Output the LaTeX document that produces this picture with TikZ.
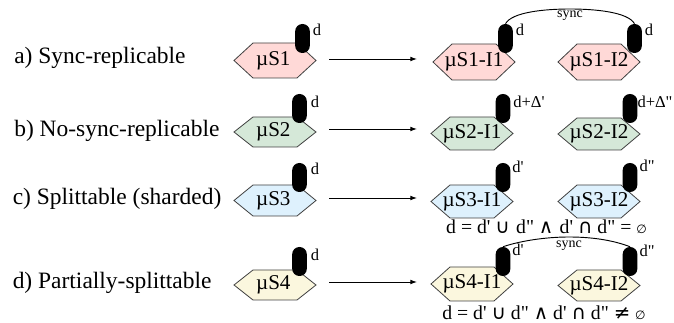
\documentclass[tikz,border=0pt]{standalone}
\usepackage{fontspec}
\setmainfont{Liberation Serif}
\newfontfamily\plainserif{Liberation Serif}
\newfontfamily\symfont{DejaVu Sans}
\usetikzlibrary{arrows.meta}
\tikzset{
  x=0.75pt,y=-0.75pt,
  hexlabel/.style={inner sep=0pt,font=\fontsize{15.8}{18}\selectfont},
  rowlabel/.style={anchor=west,inner sep=0pt,font=\fontsize{17.6}{20}\selectfont},
  db/.style={fill=black,draw=none,minimum width=11pt,minimum height=21.75pt,rounded corners=5.4pt,inner sep=0pt},
  dblabel/.style={inner sep=0pt,font=\plainserif\fontsize{12.4}{14}\selectfont},
  synclabel/.style={inner sep=0pt,font=\fontsize{10.5}{12}\selectfont},
  eqlabel/.style={inner sep=0pt,font=\plainserif\fontsize{14.8}{17}\selectfont},
  flow/.style={-{Latex[length=5pt,width=3.6pt]},line width=0.7pt},
  syncline/.style={line width=0.7pt},
  hexline/.style={draw=black!75!white,line width=0.6pt},
}
\definecolor{cred}{HTML}{FFD9D7}
\definecolor{cgreen}{HTML}{D5E8D8}
\definecolor{cblue}{HTML}{DEF1FD}
\definecolor{cyellow}{HTML}{FBF7DE}
% name, xleft, xright, ytop, ybottom, colour, text
\newcommand{\hexa}[7]{%
  \draw[hexline,fill=#6] (#2,{(#4+#5)/2}) -- ({#2+19},#4) -- ({#3-19},#4) -- (#3,{(#4+#5)/2}) -- ({#3-19},#5) -- ({#2+19},#5) -- cycle;
  \node[hexlabel] (#1) at ({(#2+#3)/2},{(#4+#5)/2}) {#7};}
\begin{document}
\begin{tikzpicture}
\useasboundingbox (0,0) rectangle (674,323);
% row labels
\node[rowlabel] (la) at (14,58) {a) Sync-replicable};
\node[rowlabel] (lb) at (14,131) {b) No-sync-replicable};
\node[rowlabel] (lc) at (12.5,199) {c) Splittable (sharded)};
\node[rowlabel] (ld) at (12.5,283) {d) Partially-splittable};
% left hexagons
\hexa{sa}{234}{316}{43}{78}{cred}{µS1\kern2.5pt}
\hexa{sb}{234}{316}{117}{147}{cgreen}{µS2\kern2.5pt}
\hexa{sc}{234}{316}{185}{216}{cblue}{µS3\kern2.5pt}
\hexa{sd}{234}{316}{270}{300}{cyellow}{µS4\kern2.5pt}
% right hexagons
\hexa{aa}{433}{515}{44}{80}{cred}{µS1-I1}
\hexa{ab}{558}{640}{44}{80}{cred}{µS1-I2}
\hexa{ba}{431}{513}{117}{150}{cgreen}{µS2-I1}
\hexa{bb}{558}{640}{118}{150}{cgreen}{µS2-I2}
\hexa{ca}{431}{513}{185}{218}{cblue}{µS3-I1}
\hexa{cb}{558}{640}{185}{218}{cblue}{µS3-I2}
\hexa{da}{431}{513}{267}{301}{cyellow}{µS4-I1}
\hexa{db}{558}{640}{270}{301}{cyellow}{µS4-I2}
% data stores
\node[db] (dsa) at (302.5,38.5) {};
\node[db] (dsb) at (299.5,108.5) {};
\node[db] (dsc) at (299.5,177.5) {};
\node[db] (dsd) at (299.5,261.5) {};
\node[db] (daa) at (505.5,38.5) {};
\node[db] (dab) at (634.5,38.5) {};
\node[db] (dba) at (503,108.5) {};
\node[db] (dbb) at (630,108.5) {};
\node[db] (dca) at (503,177.5) {};
\node[db] (dcb) at (630,177.5) {};
\node[db] (dda) at (503,261.5) {};
\node[db] (ddb) at (630,261.5) {};
% store labels
\node[dblabel] (tsa) at (317,30) {d};
\node[dblabel] (tsb) at (315,102) {d};
\node[dblabel] (tsc) at (315,169) {d};
\node[dblabel] (tsd) at (315,255) {d};
\node[dblabel] (taa) at (520,30) {d};
\node[dblabel] (tab) at (649,30) {d};
\node[dblabel] (tba) at (529,102) {d+Δ'};
\node[dblabel] (tbb) at (655,102) {d+Δ"};
\node[dblabel] (tca) at (518,167) {d'};
\node[dblabel] (tcb) at (647,166) {d"};
\node[dblabel] (tda) at (518,250) {d'};
\node[dblabel] (tdb) at (647,251) {d"};
% sync arcs
\draw[syncline] (daa.north) .. controls (512,12) and (545,9) .. (570,9) .. controls (595,9) and (628,12) .. (dab.north);
\node[synclabel] (sy1) at (570,16) {sync};
\draw[syncline] (dda.north) .. controls (520,241) and (545,237) .. (569,237) .. controls (595,237) and (615,241) .. (ddb.north);
\node[synclabel] (sy2) at (569,246) {sync};
% arrows
\coordinate (a0) at (329,59); \coordinate (a1) at (417,59);
\coordinate (b0) at (329,129); \coordinate (b1) at (417,129);
\coordinate (c0) at (329,198); \coordinate (c1) at (417,198);
\coordinate (d0) at (329,282); \coordinate (d1) at (417,282);
\draw[flow] (a0) -- (a1);
\draw[flow] (b0) -- (b1);
\draw[flow] (c0) -- (c1);
\draw[flow] (d0) -- (d1);
% equations
\node[eqlabel] (e1) at (546.5,226.5) {d = d' {\symfont∪}{}\kern1pt{} d" {\symfont∧}{}\kern1pt{} d' {\symfont∩} d" = {\fontsize{9}{10}\selectfont\symfont∅}};
\node[eqlabel] (e2) at (544,313) {d = d' {\symfont∪} d" {\symfont∧} d' {\symfont∩} d" {\symfont≠} {\fontsize{9}{10}\selectfont\symfont∅}};
\end{tikzpicture}
\end{document}
